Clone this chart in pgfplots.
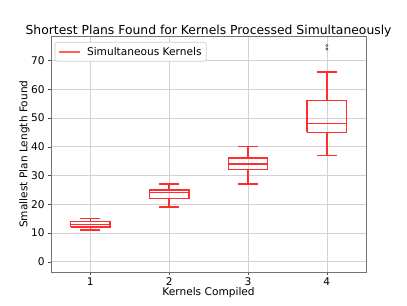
\documentclass[border=0pt]{standalone}
\usepackage{pgfplots}
\pgfplotsset{compat=1.18}
\usepackage{fontspec}
\setmainfont{DejaVu Sans}
\definecolor{boxred}{RGB}{255,45,45}
\definecolor{legred}{RGB}{255,95,95}
\begin{document}
\begin{tikzpicture}
\useasboundingbox (0,0) rectangle (460.8pt,345.6pt);
\begin{axis}[
  at={(57.6pt,38pt)}, anchor=south west,
  scale only axis, width=357.1pt, height=266.1pt,
  xmin=0.5, xmax=4.5, ymin=-3.5, ymax=78.3,
  xtick={1,2,3,4}, ytick={0,10,...,70},
  /pgf/number format/assume math mode=true,
  tick label style={font=\fontsize{12}{14}\selectfont},
  label style={font=\fontsize{12}{14}\selectfont},
  title style={font=\fontsize{14}{16}\selectfont, yshift=-10pt},
  title={Shortest Plans Found for Kernels Processed Simultaneously},
  xlabel={Kernels Compiled}, ylabel={Smallest Plan Length Found},
  xlabel style={yshift=5pt}, ylabel style={yshift=-5pt},
  grid=major, major grid style={gray!35, line width=0.8pt},
  axis line style={black!55},
  tick align=outside, tick pos=left, major tick length=3.5pt,
  tick style={black!70},
  unbounded coords=jump,
  legend style={at={(0.012,0.978)}, anchor=north west, font=\fontsize{12}{14}\selectfont,
    draw=gray!40, line width=0.8pt, rounded corners=2pt, inner sep=3.5pt, column sep=5pt},
  legend cell align=left,
]
\addlegendimage{legend image code/.code={\draw[legred, line width=1.8pt] (0pt,0pt) -- (24pt,0pt);}}
\addlegendentry{Simultaneous Kernels}
% box 1: 11 12 13 14 15
\addplot[forget plot, draw=boxred, line width=1.7pt, mark=none] coordinates {
  (0.75,12) (1.25,12) (1.25,14) (0.75,14) (0.75,12) (nan,nan)
  (0.75,13) (1.25,13) (nan,nan)
  (1,12) (1,11) (nan,nan) (0.875,11) (1.125,11) (nan,nan)
  (1,14) (1,15) (nan,nan) (0.875,15) (1.125,15)};
% box 2: 19 22 24 25 27
\addplot[forget plot, draw=boxred, line width=1.7pt, mark=none] coordinates {
  (1.75,22) (2.25,22) (2.25,25) (1.75,25) (1.75,22) (nan,nan)
  (1.75,24) (2.25,24) (nan,nan)
  (2,22) (2,19) (nan,nan) (1.875,19) (2.125,19) (nan,nan)
  (2,25) (2,27) (nan,nan) (1.875,27) (2.125,27)};
% box 3: 27 32 34 36 40
\addplot[forget plot, draw=boxred, line width=1.7pt, mark=none] coordinates {
  (2.75,32) (3.25,32) (3.25,36) (2.75,36) (2.75,32) (nan,nan)
  (2.75,34) (3.25,34) (nan,nan)
  (3,32) (3,27) (nan,nan) (2.875,27) (3.125,27) (nan,nan)
  (3,36) (3,40) (nan,nan) (2.875,40) (3.125,40)};
% box 4: 37 45 48 56 66
\addplot[forget plot, draw=boxred, line width=1.7pt, mark=none] coordinates {
  (3.75,45) (4.25,45) (4.25,56) (3.75,56) (3.75,45) (nan,nan)
  (3.75,48) (4.25,48) (nan,nan)
  (4,45) (4,37) (nan,nan) (3.875,37) (4.125,37) (nan,nan)
  (4,56) (4,66) (nan,nan) (3.875,66) (4.125,66)};
% outliers
\addplot[forget plot, only marks, mark=o, mark size=1.3pt, mark options={draw=black!75, line width=0.5pt}]
  coordinates {(4,74) (4,75.2)};
\end{axis}
\end{tikzpicture}
\end{document}
